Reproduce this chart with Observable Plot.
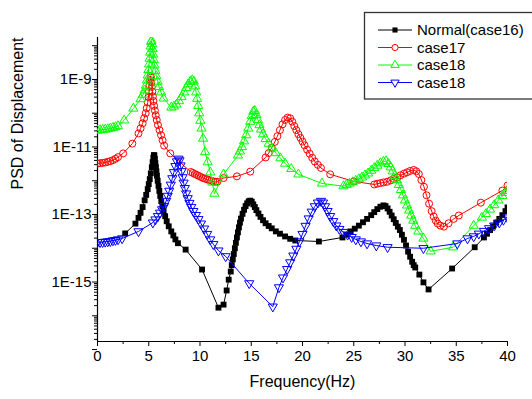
<!DOCTYPE html>
<html><head><meta charset="utf-8">
<script src="https://cdn.jsdelivr.net/npm/d3@7"></script>
<script src="https://cdn.jsdelivr.net/npm/@observablehq/plot@0.6"></script>
<style>
body{margin:0;background:#fff;}
#wrap{position:relative;width:532px;height:399px;}
#legend{position:absolute;left:0;top:0;pointer-events:none;}
</style>
</head><body><div id="wrap"></div>
<script>
// ---- Series names (legend) ----
const seriesNames = ["Normal(case16)", "case17", "case18", "case18"];
const seriesColors = ["#000000", "#ff0000", "#00ff00", "#0000ff"];

// ---- Normal(case16): frequency (Hz) and log10(PSD) ----
const normalFreq = [2.7,3.7,4.0,4.2,4.4,4.6,4.75,4.9,5.0,5.1,5.2,5.3,5.38,5.45,5.5,5.55,5.6,5.65,5.7,5.75,5.8,5.87,5.95,6.03,6.12,6.22,6.33,6.45,6.6,6.75,6.95,7.2,7.4,7.6,7.85,8.6,10.2,11.8,12.3,12.6,12.8,13.0,13.1,13.2,13.3,13.4,13.5,13.6,13.7,13.8,13.9,14.0,14.15,14.3,14.45,14.6,14.75,14.9,15.05,15.2,15.35,15.5,15.7,15.9,16.15,16.4,16.7,17.0,17.4,17.8,18.3,18.8,19.3,21.6,23.9,24.3,24.7,25.1,25.5,25.9,26.3,26.7,27.0,27.3,27.6,27.9,28.1,28.3,28.5,28.7,28.9,29.1,29.3,29.5,29.7,29.9,30.1,30.3,30.5,30.7,30.85,31.0,31.4,31.8,32.3,34.6,36.8,37.7,38.0,38.3,38.6,38.9,39.2,39.5,39.8,40.0];
const normalLogPSD = [-13.56,-13.27,-13.1,-12.95,-12.78,-12.58,-12.42,-12.25,-12.1,-11.95,-11.78,-11.6,-11.45,-11.32,-11.24,-11.25,-11.35,-11.48,-11.6,-11.72,-11.85,-12.0,-12.15,-12.3,-12.45,-12.6,-12.75,-12.9,-13.05,-13.2,-13.35,-13.5,-13.62,-13.74,-13.85,-14.04,-14.63,-15.76,-15.67,-15.25,-14.93,-14.69,-14.5,-14.33,-14.17,-14.0,-13.84,-13.68,-13.53,-13.38,-13.24,-13.12,-12.98,-12.86,-12.75,-12.67,-12.61,-12.59,-12.62,-12.7,-12.78,-12.87,-12.97,-13.07,-13.17,-13.26,-13.34,-13.41,-13.5,-13.57,-13.65,-13.72,-13.77,-13.8,-13.68,-13.6,-13.5,-13.42,-13.33,-13.23,-13.13,-13.02,-12.93,-12.84,-12.77,-12.73,-12.75,-12.82,-12.92,-13.03,-13.14,-13.25,-13.36,-13.46,-13.6,-13.75,-13.92,-14.1,-14.25,-14.4,-14.5,-14.57,-14.78,-15.01,-15.22,-14.6,-13.97,-13.68,-13.57,-13.46,-13.35,-13.24,-13.13,-13.02,-12.9,-12.79];

// ---- case17 ----
const case17Freq = [0.0,0.25,0.5,0.75,1.0,1.25,1.5,1.75,2.0,2.5,3.4,4.0,4.2,4.4,4.55,4.7,4.8,4.9,4.97,5.03,5.08,5.13,5.17,5.21,5.25,5.3,5.35,5.4,5.46,5.52,5.6,5.68,5.78,5.9,6.05,6.2,6.35,6.5,7.1,9.1,9.3,9.5,9.7,9.9,10.1,10.3,10.5,10.7,10.9,11.1,11.3,11.5,11.7,12.3,13.6,14.9,16.4,16.7,17.0,17.3,17.55,17.8,18.05,18.3,18.55,18.8,19.0,19.2,19.4,19.6,19.8,20.0,20.2,20.45,20.7,20.95,21.2,21.5,21.8,22.7,25.0,27.0,27.3,27.6,27.9,28.25,28.6,28.9,29.25,29.55,29.9,30.2,30.5,30.85,31.1,31.35,31.6,31.85,32.1,32.35,32.6,32.8,33.0,33.2,33.45,33.8,34.25,34.75,35.25,37.4,39.5,40.0];
const case17LogPSD = [-11.49,-11.48,-11.47,-11.46,-11.44,-11.42,-11.39,-11.35,-11.3,-11.19,-10.9,-10.6,-10.45,-10.3,-10.15,-10.0,-9.85,-9.68,-9.52,-9.35,-9.18,-9.02,-8.9,-8.95,-9.08,-9.22,-9.36,-9.5,-9.64,-9.78,-9.92,-10.06,-10.2,-10.35,-10.5,-10.65,-10.8,-10.96,-11.19,-11.74,-11.77,-11.8,-11.83,-11.86,-11.89,-11.92,-11.94,-11.96,-11.98,-12.0,-12.02,-12.03,-12.03,-11.92,-11.87,-11.73,-11.31,-11.18,-11.02,-10.85,-10.68,-10.5,-10.33,-10.2,-10.13,-10.15,-10.25,-10.38,-10.5,-10.62,-10.73,-10.84,-10.95,-11.08,-11.2,-11.32,-11.43,-11.53,-11.62,-11.81,-12.02,-12.11,-12.09,-12.07,-12.05,-12.03,-11.99,-11.95,-11.9,-11.84,-11.79,-11.75,-11.71,-11.68,-11.72,-11.8,-11.98,-12.18,-12.43,-12.68,-12.9,-13.06,-13.18,-13.27,-13.33,-13.36,-13.26,-13.13,-13.03,-12.65,-12.29,-12.14];

// ---- case18 (green) ----
const case18aFreq = [0.0,0.25,0.5,0.75,1.0,1.25,1.5,1.75,2.0,2.6,3.5,4.2,4.45,4.6,4.72,4.82,4.9,4.97,5.03,5.08,5.13,5.18,5.23,5.28,5.33,5.38,5.43,5.49,5.56,5.64,5.74,5.86,6.0,6.2,6.44,7.2,7.45,7.7,7.95,8.2,8.45,8.65,8.85,9.05,9.25,9.4,9.52,9.62,9.72,9.82,9.92,10.03,10.15,10.3,10.5,10.75,11.0,11.2,11.4,12.3,13.7,13.9,14.1,14.3,14.5,14.7,14.9,15.05,15.2,15.35,15.5,15.65,15.8,15.95,16.15,16.4,16.7,17.0,17.4,17.85,18.3,18.9,19.6,21.9,24.0,24.3,24.6,24.9,25.2,25.5,25.8,26.1,26.4,26.7,27.0,27.3,27.6,27.9,28.15,28.4,28.6,28.8,29.0,29.2,29.4,29.6,29.8,30.0,30.2,30.4,30.6,30.8,31.0,31.3,31.8,32.5,34.7,36.7,37.5,37.9,38.3,38.7,39.1,39.5,39.8,40.0];
const case18aLogPSD = [-10.51,-10.5,-10.49,-10.48,-10.47,-10.45,-10.43,-10.41,-10.38,-10.21,-9.86,-9.58,-9.45,-9.32,-9.18,-9.03,-8.88,-8.72,-8.55,-8.38,-8.2,-8.02,-7.88,-7.85,-7.95,-8.1,-8.26,-8.42,-8.58,-8.74,-8.9,-9.06,-9.22,-9.38,-9.56,-9.83,-9.8,-9.74,-9.64,-9.52,-9.38,-9.25,-9.14,-9.06,-9.02,-9.06,-9.2,-9.38,-9.57,-9.78,-10.0,-10.22,-10.45,-10.75,-11.15,-11.45,-11.75,-12.05,-12.38,-11.81,-11.25,-11.13,-11.0,-10.83,-10.65,-10.45,-10.25,-10.08,-9.95,-9.93,-10.05,-10.2,-10.35,-10.48,-10.62,-10.76,-10.9,-11.04,-11.18,-11.33,-11.49,-11.65,-11.81,-12.08,-12.16,-12.12,-12.08,-12.04,-12.0,-11.95,-11.9,-11.84,-11.78,-11.7,-11.62,-11.55,-11.48,-11.43,-11.42,-11.5,-11.6,-11.72,-11.85,-11.98,-12.12,-12.27,-12.43,-12.58,-12.73,-12.88,-13.03,-13.18,-13.33,-13.5,-13.71,-14.09,-13.97,-13.33,-13.09,-12.98,-12.85,-12.72,-12.58,-12.45,-12.36,-12.3];

// ---- case18 (blue) ----
const case18bFreq = [0.0,0.25,0.5,0.75,1.0,1.25,1.5,1.75,2.0,2.4,4.0,5.4,5.65,5.9,6.1,6.3,6.5,6.7,6.85,7.0,7.15,7.3,7.45,7.6,7.75,7.9,8.0,8.1,8.2,8.3,8.4,8.52,8.65,8.8,8.97,9.15,9.35,9.6,9.85,10.1,10.4,10.7,11.0,11.3,11.8,12.5,14.8,17.1,17.7,18.1,18.5,18.8,19.1,19.4,19.7,20.0,20.3,20.6,20.9,21.2,21.5,21.8,22.0,22.2,22.45,22.7,23.0,23.3,23.6,24.0,24.4,24.8,25.2,25.7,26.3,27.2,28.3,31.8,35.1,36.1,36.7,37.2,37.7,38.2,38.7,39.2,39.6,40.0];
const case18bLogPSD = [-13.82,-13.82,-13.82,-13.81,-13.8,-13.79,-13.77,-13.76,-13.74,-13.71,-13.5,-13.24,-13.15,-13.05,-12.95,-12.85,-12.75,-12.6,-12.45,-12.3,-12.12,-11.93,-11.75,-11.57,-11.43,-11.35,-11.4,-11.55,-11.72,-11.9,-12.06,-12.22,-12.38,-12.52,-12.66,-12.78,-12.9,-13.02,-13.14,-13.27,-13.42,-13.58,-13.74,-13.88,-14.07,-14.24,-15.04,-15.73,-15.16,-14.87,-14.62,-14.42,-14.22,-14.02,-13.8,-13.58,-13.34,-13.12,-12.92,-12.76,-12.65,-12.6,-12.65,-12.76,-12.9,-13.05,-13.2,-13.33,-13.43,-13.52,-13.6,-13.67,-13.74,-13.8,-13.86,-13.92,-13.97,-14.0,-13.86,-13.71,-13.65,-13.57,-13.49,-13.41,-13.33,-13.24,-13.16,-13.09];

// ---- Axis ticks ----
const xMajorTicks = [0, 5, 10, 15, 20, 25, 30, 35, 40];
const xMinorTicks = [2.5, 7.5, 12.5, 17.5, 22.5, 27.5, 32.5, 37.5];
const yLabeledTicks = [1e-9, 1e-11, 1e-13, 1e-15];
const yTickLabels = ["1E-9", "1E-11", "1E-13", "1E-15"];
const yDecadeTicks = [1e-8, 1e-10, 1e-12, 1e-14, 1e-16, 1e-17];
const yDomain = [1.73e-17, 1.75e-8];
const xLabel = "Frequency(Hz)";
const yLabel = "PSD of Displacement";

// minor log ticks 2..9 within each decade
const yMinorTicks = [];
for (let e = -17; e <= -8; e++) for (let m = 2; m <= 9; m++) {
  const v = m * Math.pow(10, e);
  if (v >= yDomain[0] && v <= yDomain[1]) yMinorTicks.push(v);
}
const yLabelTable = yLabeledTicks.map((v, i) => ({v, label: yTickLabels[i]}));

function table(freq, logv) { return freq.map((f, i) => ({f, v: Math.pow(10, logv[i])})); }
const normal = table(normalFreq, normalLogPSD);
const c17 = table(case17Freq, case17LogPSD);
const c18a = table(case18aFreq, case18aLogPSD);
const c18b = table(case18bFreq, case18bLogPSD);

const font = "'Liberation Sans', Arial, sans-serif";

const chart = Plot.plot({
  width: 532, height: 399,
  marginLeft: 97, marginRight: 25, marginTop: 37, marginBottom: 58,
  style: {fontFamily: font, fontSize: "15px", background: "white", color: "black", overflow: "visible"},
  x: {domain: [0, 40], label: null},
  y: {type: "log", domain: yDomain, label: null},
  marks: [
    Plot.axisX(xMajorTicks, {tickSize: 5, tickPadding: 4, tickFormat: d => String(d), label: null, fontSize: 15}),
    Plot.axisX(xMinorTicks, {tickSize: 3, tickFormat: () => "", label: null}),
    Plot.axisY(yLabeledTicks, {tickSize: 5, text: null, label: null}),
    Plot.text(yLabelTable, {y: "v", text: "label", frameAnchor: "left", dx: -6, textAnchor: "end", fontSize: 15, fill: "black"}),
    Plot.axisY(yDecadeTicks, {tickSize: 5, tickFormat: () => "", label: null}),
    Plot.axisY(yMinorTicks, {tickSize: 3, tickFormat: () => "", label: null}),
    Plot.ruleX([0], {stroke: "black", strokeWidth: 1.2}),
    Plot.ruleY([yDomain[0]], {stroke: "black", strokeWidth: 1.2}),

    Plot.line(normal, {x: "f", y: "v", stroke: seriesColors[0], strokeWidth: 1, clip: true}),
    Plot.dot(normal, {x: "f", y: "v", symbol: "square", r: 3.3, fill: seriesColors[0], stroke: "none", clip: true}),

    Plot.line(c17, {x: "f", y: "v", stroke: seriesColors[1], strokeWidth: 1, clip: true}),
    Plot.dot(c17, {x: "f", y: "v", symbol: "circle", r: 3.5, fill: "none", stroke: seriesColors[1], strokeWidth: 1, clip: true}),

    Plot.line(c18a, {x: "f", y: "v", stroke: seriesColors[2], strokeWidth: 1, clip: true}),
    Plot.dot(c18a, {x: "f", y: "v", symbol: "triangle", r: 3.4, fill: "none", stroke: seriesColors[2], strokeWidth: 1, clip: true}),

    Plot.line(c18b, {x: "f", y: "v", stroke: seriesColors[3], strokeWidth: 1, clip: true}),
    Plot.dot(c18b, {x: "f", y: "v", symbol: "triangle", rotate: 180, r: 3.4, fill: "none", stroke: seriesColors[3], strokeWidth: 1, clip: true}),

    Plot.text([xLabel], {frameAnchor: "bottom", dy: 45, fontSize: 16, fill: "black"}),
    Plot.text([yLabel], {frameAnchor: "left", dx: -80, rotate: -90, fontSize: 16, fill: "black"})
  ]
});
document.getElementById("wrap").appendChild(chart);

// ---- Legend (inside plot, top right) ----
const lg = d3.select("#wrap").append("svg").attr("id", "legend")
  .attr("width", 532).attr("height", 399);
lg.append("rect").attr("x", 364.5).attr("y", 12.5).attr("width", 175).attr("height", 86.5)
  .attr("fill", "white").attr("stroke", "#333").attr("stroke-width", 1.3);
const symbols = [
  {type: d3.symbolSquare, size: 26, fill: true, rot: 0},
  {type: d3.symbolCircle, size: 30, fill: false, rot: 0},
  {type: d3.symbolTriangle, size: 30, fill: false, rot: 0},
  {type: d3.symbolTriangle, size: 30, fill: false, rot: 180}
];
const rowsY = [30, 47.5, 65, 82.5];
seriesNames.forEach((name, i) => {
  const y = rowsY[i];
  const c = seriesColors[i];
  lg.append("line").attr("x1", 378).attr("x2", 412).attr("y1", y).attr("y2", y)
    .attr("stroke", c).attr("stroke-width", 1);
  const s = symbols[i];
  lg.append("path").attr("d", d3.symbol(s.type, s.size)())
    .attr("transform", `translate(395,${y}) rotate(${s.rot})`)
    .attr("fill", s.fill ? c : "white").attr("stroke", s.fill ? "none" : c).attr("stroke-width", 1);
  lg.append("text").attr("x", 417).attr("y", y).attr("dy", "0.36em")
    .attr("font-family", font).attr("font-size", 15).attr("fill", "black").text(name);
});
</script>
</body></html>
